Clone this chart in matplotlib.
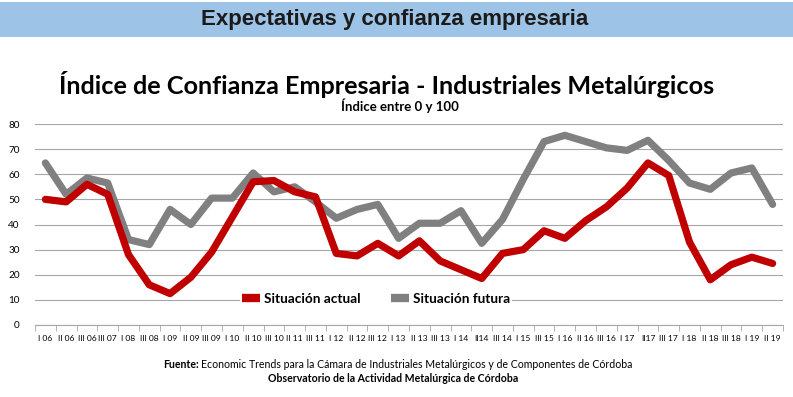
import matplotlib
matplotlib.use("Agg")
import matplotlib.pyplot as plt
from matplotlib.patches import Rectangle
import numpy as np

# ---- data ----
periodos = ["I 06", "II 06", "III 06", "III 07", "I 08", "III 08", "I 09", "II 09",
            "III 09", "I 10", "II 10", "III 10", "II 11", "III 11", "I 12", "II 12",
            "III 12", "I 13", "II 13", "III 13", "I 14", "II14", "III 14", "I 15",
            "III 15", "I 16", "II 16", "III 16", "I 17", "II17", "III 17", "I 18",
            "II 18", "III 18", "I 19", "II 19"]

situacion_actual = [50, 49, 56, 52, 28, 16, 12.5, 19, 29, 43, 57, 57.5,
                    53, 51, 28.5, 27.5, 32.5, 27.5, 33.5, 25.5, 22, 18.5, 28.5, 30,
                    37.5, 34.5, 41.5, 47, 54.5, 64.5, 59.5, 33, 18, 24, 27, 24.5]

situacion_futura = [64.5, 52, 58.5, 56.5, 34, 32, 46, 40, 50.5, 50.5, 60.5, 53,
                    55, 49, 42.5, 46, 48, 34.5, 40.5, 40.5, 45.5, 32.5, 42, 58,
                    73, 75.5, 73, 70.5, 69.5, 73.5, 65.5, 56.5, 54, 60.5, 62.5, 48]

ROJO = "#C00000"
GRIS = "#808080"

fig = plt.figure(figsize=(7.93, 3.97), dpi=100)

# banner
fig.patches.append(Rectangle((0, 1 - 37 / 397), 1, 35 / 397, transform=fig.transFigure,
                             facecolor="#9DC3E6", edgecolor="none", zorder=0))
fig.text(0.498, 1 - 20 / 397, "Expectativas y confianza empresaria", ha="center", va="center",
         fontsize=16, fontweight="bold", family="Liberation Sans", color="#1a1a1a")

# titles
fig.text(0.487, 1 - 84 / 397, "Índice de Confianza Empresaria - Industriales Metalúrgicos",
         ha="center", va="center", fontsize=18.2, family="Lato", fontweight="bold", color="black")
fig.text(0.504, 1 - 106 / 397, "Índice entre 0 y 100", ha="center", va="center",
         fontsize=9.5, family="Lato", fontweight="bold", color="black")

ax = fig.add_axes([35 / 793, 1 - 325 / 397, 748 / 793, 201 / 397])
x = np.arange(len(periodos))
ax.plot(x, situacion_actual, color=ROJO, lw=5.2, solid_joinstyle="round", solid_capstyle="round",
        label="Situación actual", zorder=3)
ax.plot(x, situacion_futura, color=GRIS, lw=5.2, solid_joinstyle="round", solid_capstyle="round",
        label="Situación futura", zorder=2)

ax.set_xlim(-0.5, len(periodos) - 0.5)
ax.set_ylim(0, 80)
ax.set_yticks(range(0, 81, 10))
ax.yaxis.grid(True, color="#A6A6A6", lw=0.8)
ax.set_axisbelow(True)
for s in ["top", "right", "left"]:
    ax.spines[s].set_visible(False)
ax.spines["bottom"].set_color("#A6A6A6")
ax.tick_params(axis="y", length=0, labelsize=7.2, pad=11, labelcolor="black")
ax.set_xticks(x)
ax.set_xticklabels(periodos)
ax.set_xticks(np.arange(-0.5, len(periodos)), minor=True)
ax.tick_params(axis="x", which="major", length=0, labelsize=6.1, pad=7)
ax.tick_params(axis="x", which="minor", length=4, color="#A6A6A6")
for t in ax.get_yticklabels() + ax.get_xticklabels():
    t.set_family("Lato")

leg = ax.legend(loc="center", bbox_to_anchor=(0.456, 0.13), ncol=2, frameon=True,
                framealpha=1, edgecolor="none", fancybox=False, handlelength=1.3,
                columnspacing=2.2, handletextpad=0.3, borderpad=0.2,
                prop={"family": "Lato", "weight": "bold", "size": 9.8})
for h in leg.get_lines():
    h.set_linewidth(6)
    h.set_solid_capstyle("butt")

# source
fig.text(199 / 793, 1 - 365 / 397, "Fuente:", ha="right", va="center", fontsize=7.6,
         family="Lato", fontweight="bold")
fig.text(201 / 793, 1 - 365 / 397,
         "Economic Trends para la Cámara de Industriales Metalúrgicos y de Componentes de Córdoba",
         ha="left", va="center", fontsize=7.6, family="Lato")
fig.text(0.496, 1 - 379 / 397, "Observatorio de la Actividad Metalúrgica de Córdoba",
         ha="center", va="center", fontsize=7.6, family="Lato", fontweight="bold")

fig.savefig("out.png", dpi=100, facecolor="white")
